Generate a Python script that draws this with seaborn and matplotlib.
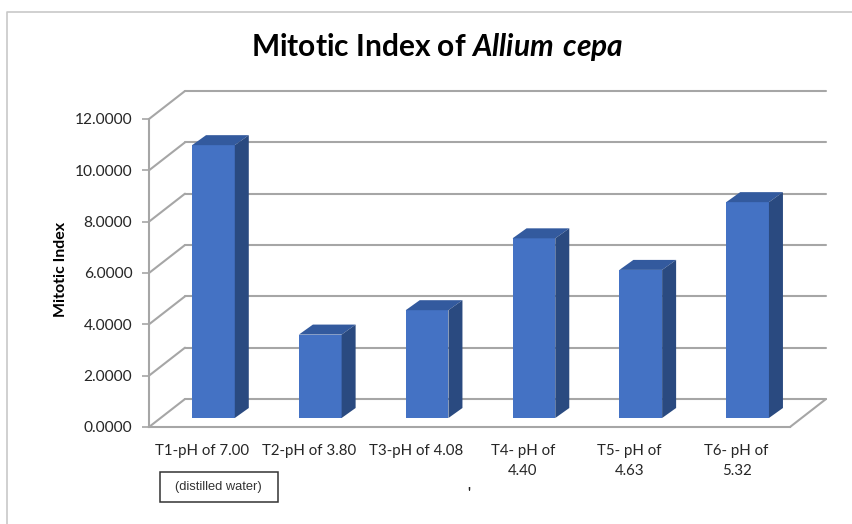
"""
Mitotic index of Allium cepa, fake 3D columns on top of a seaborn barplot
"""
import matplotlib
matplotlib.use("Agg")
import matplotlib.pyplot as plt
import matplotlib.transforms as mtrans
from matplotlib.lines import Line2D
from matplotlib.patches import Rectangle
import seaborn as sns

categories = ["T1-pH of 7.00", "T2-pH of 3.80", "T3-pH of 4.08",
              "T4- pH of\n4.40", "T5- pH of\n4.63", "T6- pH of\n5.32"]
mitotic_index = [10.63, 3.25, 4.2, 7.0, 5.77, 8.41]
y_ticks = [0, 2, 4, 6, 8, 10, 12]
y_tick_labels = ["0.0000", "2.0000", "4.0000", "6.0000", "8.0000", "10.0000", "12.0000"]

sns.set_theme(style="white")
plt.rcParams["font.family"] = ["Lato", "DejaVu Sans"]
plt.rcParams["mathtext.fontset"] = "custom"
plt.rcParams["mathtext.bfit"] = "Lato:italic:bold"
plt.rcParams["mathtext.bf"] = "Lato:bold"

W, H = 853, 524
fig = plt.figure(figsize=(W / 100, H / 100), dpi=100, facecolor="white")


def px_axes(left, right, top, bottom):
    return fig.add_axes([left / W, 1 - bottom / H, (right - left) / W, (bottom - top) / H])


grey = "#a6a6a6"
text_col = "#262626"

# front plane of the chart, holds the axis ticks
ax = px_axes(149, 790, 119, 427)
ax.set_xlim(-0.5, len(categories) - 0.5)
ax.set_ylim(0, 12)
ax.set_facecolor("none")
ax.set_yticks(y_ticks)
ax.set_yticklabels(y_tick_labels, fontsize=11.2, color=text_col)
ax.set_xticks(range(len(categories)))
ax.set_xticklabels(categories, fontsize=10.8, color=text_col, linespacing=1.6)
ax.tick_params(axis="y", length=5, width=1.2, color=grey, pad=7, left=True)
ax.tick_params(axis="x", length=0, pad=12)
ax.set_ylabel("Mitotic Index", fontsize=11.5, fontweight="bold", color="black")
ax.yaxis.set_label_coords(-0.126, 0.51)
for side in ["top", "right"]:
    ax.spines[side].set_visible(False)
for side in ["left", "bottom"]:
    ax.spines[side].set_color(grey)
    ax.spines[side].set_linewidth(1.5)

# back wall lines and the diagonals going to them
back_dx, back_dy = 36, 28
back = mtrans.offset_copy(ax.transData, fig, x=back_dx, y=back_dy, units="dots")
x_left, x_right = ax.get_xlim()
for t in y_ticks:
    ax.plot([x_left, x_right], [t, t], transform=back, color=grey, lw=1.5, clip_on=False, zorder=0)
    corner = ax.transData.transform((x_left, t))
    diag = Line2D([corner[0], corner[0] + back_dx], [corner[1], corner[1] + back_dy],
                  transform=None, color=grey, lw=1.5, zorder=0)
    fig.add_artist(diag)
corner = ax.transData.transform((x_right, 0))
fig.add_artist(Line2D([corner[0], corner[0] + back_dx], [corner[1], corner[1] + back_dy],
                      transform=None, color=grey, lw=1.5, zorder=0))

# bars sit a little way into the floor
ax_bars = px_axes(160, 801, 110, 418)
ax_bars.patch.set_visible(False)
sns.barplot(x=categories, y=mitotic_index, ax=ax_bars, color="#4472c4", saturation=1, width=0.4,
            linewidth=0, edgecolor="none")
ax_bars.set_xlim(-0.5, len(categories) - 0.5)
ax_bars.set_ylim(0, 12)
ax_bars.axis("off")

depth_x = 14 / (641 / 6)
depth_y = 10 / (308 / 12)
half = 0.2
for i, v in enumerate(mitotic_index):
    # top face
    ax_bars.fill([i - half, i + half, i + half + depth_x, i - half + depth_x],
                 [v, v, v + depth_y, v + depth_y], color="#335a9e", lw=0, clip_on=False)
    # side face
    ax_bars.fill([i + half, i + half + depth_x, i + half + depth_x, i + half],
                 [0, depth_y, v + depth_y, v], color="#2a4a80", lw=0, clip_on=False)

# title with the species name in italics
fig.text(437 / W, 1 - 56 / H, r"Mitotic Index of $\mathbfit{Allium\ cepa}$",
         fontsize=21.5, fontweight="bold", color="black", ha="center", va="baseline")

# pasted box under the first label
fig.add_artist(Rectangle((160 / W, 1 - 502 / H), 118 / W, 30 / H, transform=fig.transFigure,
                         fill=False, edgecolor="#333333", lw=1.1))
fig.text(218.5 / W, 1 - 487 / H, "(distilled water)", fontsize=9.3, color="#333333",
         family="Liberation Sans", ha="center", va="center")
fig.text(469 / W, 1 - 493 / H, "'", fontsize=10, fontweight="bold", color="#222222",
         ha="center", va="center")

# picture frame
fig.add_artist(Line2D([7 / W, 7 / W, 1], [0, 1 - 12 / H, 1 - 12 / H], color="#c8c8c8", lw=1.2))

fig.savefig("out.png", dpi=100)
